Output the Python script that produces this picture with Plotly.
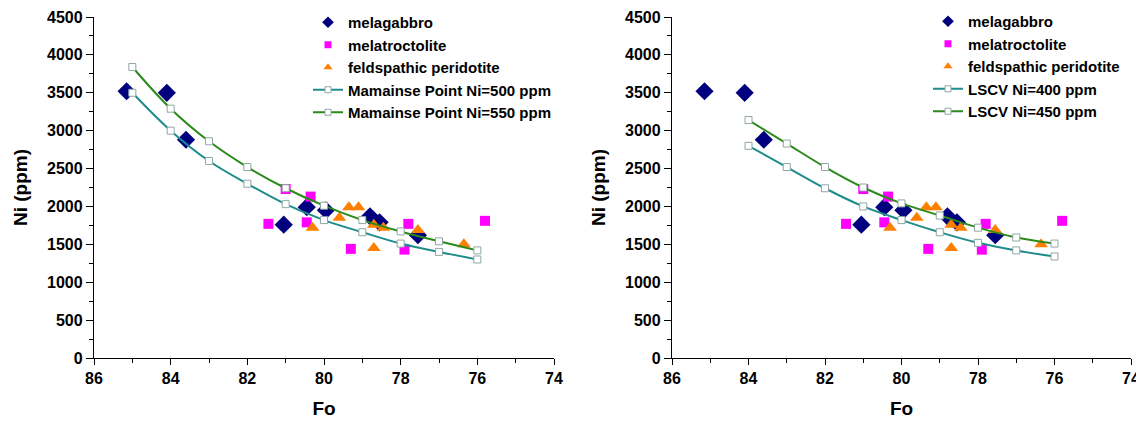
import plotly.graph_objects as go

# ---------------- data ----------------
# sample data (same samples shown in both panels)
mela_fo = [85.15, 84.1, 83.6, 81.05, 80.45, 79.95, 78.8, 78.55, 77.55]
mela_ni = [3520, 3500, 2880, 1760, 1990, 1950, 1870, 1790, 1620]

troc_fo = [81.45, 81.0, 80.35, 80.45, 79.3, 77.8, 77.9, 75.8]
troc_ni = [1770, 2230, 2130, 1790, 1440, 1770, 1430, 1810]

feld_fo = [80.3, 79.6, 79.35, 79.1, 78.7, 78.45, 78.7, 77.55, 76.35]
feld_ni = [1720, 1850, 1990, 1990, 1760, 1720, 1450, 1690, 1500]

# model curves, left panel (Mamainse Point)
mp_fo = [85, 84, 83, 82, 81, 80, 79, 78, 77, 76]
mp500_ni = [3500, 3000, 2600, 2300, 2030, 1820, 1660, 1510, 1400, 1300]
mp550_ni = [3840, 3290, 2860, 2520, 2240, 2010, 1820, 1670, 1540, 1420]

# model curves, right panel (LSCV)
ls_fo = [84, 83, 82, 81, 80, 79, 78, 77, 76]
ls400_ni = [2800, 2520, 2240, 2000, 1820, 1660, 1520, 1420, 1340]
ls450_ni = [3140, 2830, 2520, 2250, 2040, 1880, 1720, 1590, 1510]

x_ticks = [86, 84, 82, 80, 78, 76, 74]
y_ticks = [0, 500, 1000, 1500, 2000, 2500, 3000, 3500, 4000, 4500]

# ---------------- styles ----------------
FONT = "Arial, 'Liberation Sans', sans-serif"
C_MELA = "#00007f"
C_TROC = "#ff00ff"
C_FELD = "#ff8000"
C_TEAL = "#1f8c8c"
C_GREEN = "#2a8a1a"
SQ_EDGE = "#8fa8a4"

# the page body adds an 8px offset; the figure is sized to fill the rest
W, H = 1136, 413
OFF = 8


def px_x(p):
    return (p - OFF) / W


def px_y(p):
    return 1 - (p - OFF) / H


fig = go.Figure()


def add_panel(xa, ya, legend, curve_fo, c1_ni, c1_name, c2_ni, c2_name):
    sq_marker = dict(symbol="square", size=7, color="white",
                     line=dict(color=SQ_EDGE, width=1))
    # plotted marks
    fig.add_trace(go.Scatter(
        x=mela_fo, y=mela_ni, mode="markers", showlegend=False,
        xaxis=xa, yaxis=ya, marker=dict(symbol="diamond", size=14, color=C_MELA)))
    fig.add_trace(go.Scatter(
        x=troc_fo, y=troc_ni, mode="markers", showlegend=False,
        xaxis=xa, yaxis=ya, marker=dict(symbol="square", size=10, color=C_TROC)))
    fig.add_trace(go.Scatter(
        x=feld_fo, y=feld_ni, mode="markers", showlegend=False,
        xaxis=xa, yaxis=ya, marker=dict(symbol="triangle-up", size=12, color=C_FELD)))
    fig.add_trace(go.Scatter(
        x=curve_fo, y=c1_ni, mode="lines+markers", showlegend=False,
        xaxis=xa, yaxis=ya, line=dict(color=C_TEAL, width=2, shape="spline"),
        marker=sq_marker))
    fig.add_trace(go.Scatter(
        x=curve_fo, y=c2_ni, mode="lines+markers", showlegend=False,
        xaxis=xa, yaxis=ya, line=dict(color=C_GREEN, width=2, shape="spline"),
        marker=sq_marker))
    # legend entries (smaller symbols, as in the original legend)
    leg_sq = dict(symbol="square", size=6, color="white",
                  line=dict(color=SQ_EDGE, width=1))
    entries = [
        ("melagabbro", "markers", dict(symbol="diamond", size=9, color=C_MELA), None),
        ("melatroctolite", "markers", dict(symbol="square", size=7, color=C_TROC), None),
        ("feldspathic peridotite", "markers",
         dict(symbol="triangle-up", size=8, color=C_FELD), None),
        (c1_name, "lines+markers", leg_sq, dict(color=C_TEAL, width=2)),
        (c2_name, "lines+markers", leg_sq, dict(color=C_GREEN, width=2)),
    ]
    for name, mode, mk, ln in entries:
        kw = dict(x=[None], y=[None], mode=mode, name=name, xaxis=xa, yaxis=ya,
                  legend=legend, marker=mk, showlegend=True)
        if ln is not None:
            kw["line"] = ln
        fig.add_trace(go.Scatter(**kw))


add_panel("x", "y", "legend", mp_fo, mp500_ni, "Mamainse Point Ni=500 ppm",
          mp550_ni, "Mamainse Point Ni=550 ppm")
add_panel("x2", "y2", "legend2", ls_fo, ls400_ni, "LSCV Ni=400 ppm",
          ls450_ni, "LSCV Ni=450 ppm")

tickfont = dict(family=FONT, size=16, color="black", weight="bold")
titlefont = dict(family=FONT, size=19, color="black", weight="bold")

xcommon = dict(range=[86, 74], tickvals=x_ticks, showgrid=False, zeroline=False,
               showline=True, linecolor="black", linewidth=1.3, automargin=False,
               ticks="outside", ticklen=6, tickwidth=1.3, tickcolor="black",
               minor=dict(dtick=1, ticks="outside", ticklen=4, tickwidth=1.2,
                          tickcolor="black", showgrid=False),
               tickfont=tickfont,
               title=dict(text="Fo", font=titlefont, standoff=15))
ycommon = dict(range=[0, 4500], tickvals=y_ticks, showgrid=False, zeroline=False,
               showline=True, linecolor="black", linewidth=1.3, automargin=False,
               ticks="outside", ticklen=7, tickwidth=1.3, tickcolor="black",
               minor=dict(dtick=250, ticks="outside", ticklen=4, tickwidth=1.2,
                          tickcolor="black", showgrid=False),
               tickfont=tickfont,
               title=dict(text="Ni (ppm)", font=titlefont, standoff=14))

ydom = [px_y(358), px_y(17)]

legfont = dict(family=FONT, size=15, color="black", weight="bold")

fig.update_layout(
    width=W, height=H,
    margin=dict(l=0, r=0, t=0, b=0, autoexpand=False),
    paper_bgcolor="white", plot_bgcolor="white",
    showlegend=True,
    xaxis=dict(domain=[px_x(94), px_x(554)], anchor="y", **xcommon),
    yaxis=dict(domain=ydom, anchor="x", **ycommon),
    xaxis2=dict(domain=[px_x(672), px_x(1131)], anchor="y2", **xcommon),
    yaxis2=dict(domain=ydom, anchor="x2", **ycommon),
    legend=dict(x=300 / W, y=1 + 2 / H, xanchor="left", yanchor="top",
                bgcolor="rgba(0,0,0,0)", font=legfont, tracegroupgap=0),
    legend2=dict(x=920 / W, y=1 + 3 / H, xanchor="left", yanchor="top",
                 bgcolor="rgba(0,0,0,0)", font=legfont, tracegroupgap=0),
)

fig.write_html("out.html")
